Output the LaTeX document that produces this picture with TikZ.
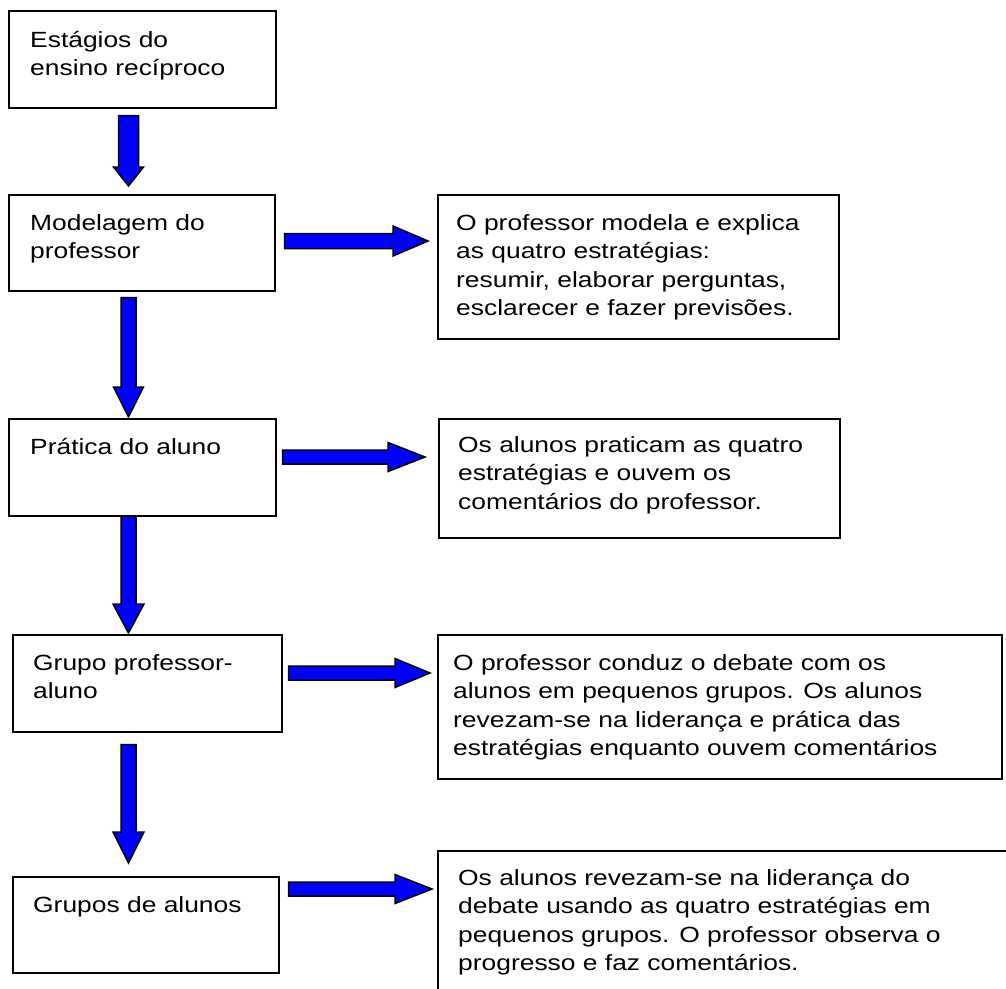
\documentclass[tikz,border=0pt]{standalone}
\usepackage{fontspec}
\setmainfont{Liberation Sans}
\newfontfamily\widesans[FakeStretch=1.2]{Liberation Sans}
\usetikzlibrary{calc}
\tikzset{
  box/.style={draw=black, line width=1.5pt, anchor=north west, inner sep=0pt},
  txt/.style={anchor=north west, inner sep=0pt, align=left, font=\widesans\fontsize{22}{28.5}\selectfont},
  blk/.style={fill=blue, draw=black, line width=1.5pt, line join=miter},
}
% vertical block arrow: #1 start, #2 tip, #3 shaft half width, #4 head half width, #5 head length
\newcommand{\vblk}[5]{\path[blk] let \p1=(#1), \p2=(#2) in
  (\x1-#3pt,\y1) -- (\x1+#3pt,\y1) -- (\x1+#3pt,\y2+#5pt) -- (\x1+#4pt,\y2+#5pt) -- (\x1,\y2)
  -- (\x1-#4pt,\y2+#5pt) -- (\x1-#3pt,\y2+#5pt) -- cycle;}
% horizontal block arrow
\newcommand{\hblk}[5]{\path[blk] let \p1=(#1), \p2=(#2) in
  (\x1,\y1+#3pt) -- (\x2-#5pt,\y1+#3pt) -- (\x2-#5pt,\y1+#4pt) -- (\x2,\y1)
  -- (\x2-#5pt,\y1-#4pt) -- (\x2-#5pt,\y1-#3pt) -- (\x1,\y1-#3pt) -- cycle;}
\newcommand{\fs}{\rule{0pt}{22pt}}
\begin{document}
\begin{tikzpicture}[x=1pt,y=-1pt]
\useasboundingbox (0,0) rectangle (1006,988);
\clip (0,0) rectangle (1006,988);
% left boxes
\node[box, minimum width=267, minimum height=97] (b1) at (8,10) {};
\node[box, minimum width=266, minimum height=96] (b2) at (8,194) {};
\node[box, minimum width=267, minimum height=97] (b3) at (8,418) {};
\node[box, minimum width=269, minimum height=97] (b4) at (12,634) {};
\node[box, minimum width=266, minimum height=96] (b5) at (12,876) {};
% right boxes
\node[box, minimum width=401, minimum height=144] (r1) at (437,194) {};
\node[box, minimum width=401, minimum height=119] (r2) at (438,418) {};
\node[box, minimum width=564, minimum height=144] (r3) at (437,634) {};
\node[box, minimum width=600, minimum height=160] (r4) at (437,850) {};
% texts
\node[txt] (t1) at ($(b1.north west)+(22,15)$) {\fs Estágios do\\ensino recíproco};
\node[txt] (t2) at ($(b2.north west)+(22,14)$) {\fs Modelagem do\\professor};
\node[txt] (t3) at ($(b3.north west)+(22,14)$) {\fs Prática do aluno};
\node[txt] (t4) at ($(b4.north west)+(21,14)$) {\fs Grupo professor-\\aluno};
\node[txt] (t5) at ($(b5.north west)+(21,14)$) {\fs Grupos de alunos};
\node[txt] (u1) at ($(r1.north west)+(19,14)$) {\fs O professor modela e explica\\as quatro estratégias:\\resumir, elaborar perguntas,\\esclarecer e fazer previsões.};
\node[txt] (u2) at ($(r2.north west)+(20,12)$) {\fs Os alunos praticam as quatro\\estratégias e ouvem os\\comentários do professor.};
\node[txt] (u3) at ($(r3.north west)+(16,14)$) {\fs O professor conduz o debate com os\\alunos em pequenos grupos. Os alunos\\revezam-se na liderança e prática das\\estratégias enquanto ouvem comentários};
\node[txt] (u4) at ($(r4.north west)+(21,13)$) {\fs Os alunos revezam-se na liderança do\\debate usando as quatro estratégias em\\pequenos grupos. O professor observa o\\progresso e faz comentários.};
% down arrows
\vblk{$(b1.south west)+(120.5,7)$}{$(b2.north west)+(120.5,-8)$}{10}{15}{19}
\vblk{$(b2.south west)+(120.5,6)$}{$(b3.north west)+(120.5,-1)$}{7.5}{15}{30}
\vblk{$(b3.south west)+(120.5,0)$}{$(b4.north west)+(116.5,-1)$}{7.5}{15.5}{29}
\vblk{$(b4.south west)+(116.5,12)$}{$(b5.north west)+(116.5,-13)$}{7.5}{15.5}{31}
% right arrows
\hblk{$(b2.north east)+(9,47)$}{$(r1.north west)+(-9,47)$}{7.5}{15}{35}
\hblk{$(b3.north east)+(6,39)$}{$(r2.north west)+(-13,39)$}{7}{14.5}{37}
\hblk{$(b4.north east)+(6,39)$}{$(r3.north west)+(-7,39)$}{7}{14.5}{35}
\hblk{$(b5.north east)+(9,13)$}{$(r4.north west)+(-5,39)$}{7}{14.5}{37}
\end{tikzpicture}
\end{document}
